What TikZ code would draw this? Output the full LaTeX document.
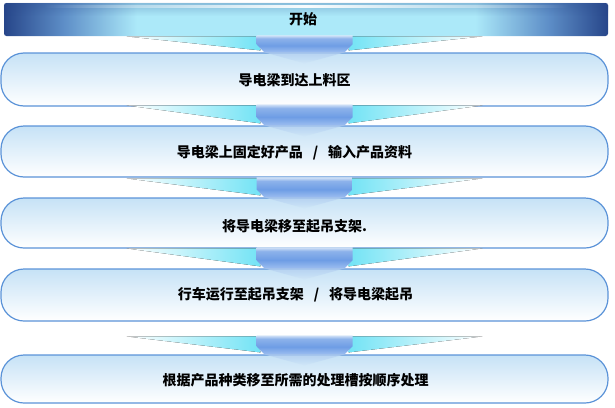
\documentclass[tikz,border=0pt]{standalone}
\usepackage{fontspec}
\newfontfamily\cjk{Noto Sans CJK SC}
\usetikzlibrary{calc,fadings}
\definecolor{bardk}{HTML}{27468A}
\definecolor{barmid}{HTML}{5E8FC8}
\definecolor{barlt}{HTML}{ACE9F9}
\definecolor{boxline}{HTML}{5B93D8}
\definecolor{boxtop}{HTML}{C6E2F6}
\definecolor{arrlt}{HTML}{D3E3F7}
\definecolor{arrmid}{HTML}{6E9DE5}
\definecolor{arrbot}{HTML}{9DBEF0}
\definecolor{glow}{HTML}{72E3F5}
\definecolor{tipc}{HTML}{B3CFF1}
\pgfdeclarehorizontalshading{barshade}{100bp}{color(0bp)=(bardk); color(25bp)=(bardk); color(30bp)=(barmid); color(36bp)=(barlt); color(64bp)=(barlt); color(70bp)=(barmid); color(75bp)=(bardk); color(100bp)=(bardk)}
\pgfdeclareverticalshading{arrshade}{100bp}{color(0bp)=(arrbot); color(25bp)=(arrbot); color(45bp)=(arrmid); color(66bp)=(arrmid!70!arrlt); color(75bp)=(arrlt); color(100bp)=(arrlt)}
\tikzfading[name=hlfade, left color=transparent!100, right color=transparent!100, middle color=transparent!5]
\tikzfading[name=topfade, top color=transparent!10, bottom color=transparent!100]
\tikzfading[name=tipfade, top color=transparent!20, bottom color=transparent!100]
\tikzset{
  box/.style={draw=boxline, line width=1.2pt, rounded corners=23pt, top color=boxtop, bottom color=white, minimum width=607pt, inner sep=0pt},
  bar/.style={shading=barshade, rounded corners=2.5pt, minimum width=604pt, minimum height=33pt, inner sep=0pt},
  txt/.style={font=\cjk\bfseries\fontsize{14}{16}\selectfont, text=black, inner sep=0pt},
  arrbody/.style={shading=arrshade},
  glowL/.style={left color=white, right color=glow},
  glowR/.style={left color=glow, right color=white},
}
\newcommand\flowarr[2]{% #1 lower node, #2 arrow height
  \fill[glowL] ($(#1.north)+(-178,-#2+1)$) -- ($(#1.north)+(-47,-#2+1)$) -- ($(#1.north)+(-44,-2)$) -- cycle;
  \fill[glowR] ($(#1.north)+(178,-#2+1)$) -- ($(#1.north)+(47,-#2+1)$) -- ($(#1.north)+(44,-2)$) -- cycle;
  \fill[tipc, path fading=tipfade] ($(#1.north)+(-40,0)$) -- ($(#1.north)+(40,0)$) -- ($(#1.north)+(0,11)$) -- cycle;
  \path[arrbody] ($(#1.north)+(-48,-#2)$) -- ($(#1.north)+(48,-#2)$) -- ($(#1.north)+(48,-8)$) -- ($(#1.north)+(40,0)$) -- ($(#1.north)+(-40,0)$) -- ($(#1.north)+(-48,-8)$) -- cycle;
}
\begin{document}
\begin{tikzpicture}[x=1pt,y=-1pt]
\useasboundingbox (0,0) rectangle (615,407);
% boxes
\node[box, minimum height=53pt] (b1) at (304.5,79.5) {};
\node[box, minimum height=51pt] (b2) at (304.5,151.5) {};
\node[box, minimum height=50pt] (b3) at (304.5,223) {};
\node[box, minimum height=52pt] (b4) at (304.5,295) {};
\node[box, minimum height=48pt] (b5) at (304.5,379) {};
% start bar
\node[bar] (start) at (306,19.5) {};
\path[fill=bardk, fill opacity=0.3, path fading=topfade, rounded corners=2.5pt] (start.north west) rectangle ($(start.north east)+(0,13)$);
\path[fill=white, path fading=hlfade] ($(start.north west)+(40,2)$) rectangle ($(start.north east)+(-40,5)$);
% arrows
\flowarr{b1}{17}
\flowarr{b2}{21}
\flowarr{b3}{20}
\flowarr{b4}{21}
\flowarr{b5}{19}
% texts
\node[txt] (t0) at ([xshift=-3pt]start.center) {开始};
\node[txt] (t1) at ([xshift=-10pt,yshift=-1pt]b1.center) {导电梁到达上料区};
\node[txt] (t2) at ([xshift=-10pt,yshift=-1.5pt]b2.center) {导电梁上固定好产品\hspace{10pt}/\hspace{10pt}输入产品资料};
\node[txt] (t3) at ([xshift=-10pt,yshift=-3pt]b3.center) {将导电梁移至起吊支架.};
\node[txt] (t4) at ([xshift=-9pt]b4.center) {行车运行至起吊支架\hspace{10pt}/\hspace{10pt}将导电梁起吊};
\node[txt] (t5) at ([xshift=-9pt,yshift=-1pt]b5.center) {根据产品种类移至所需的处理槽按顺序处理};
\end{tikzpicture}
\end{document}
